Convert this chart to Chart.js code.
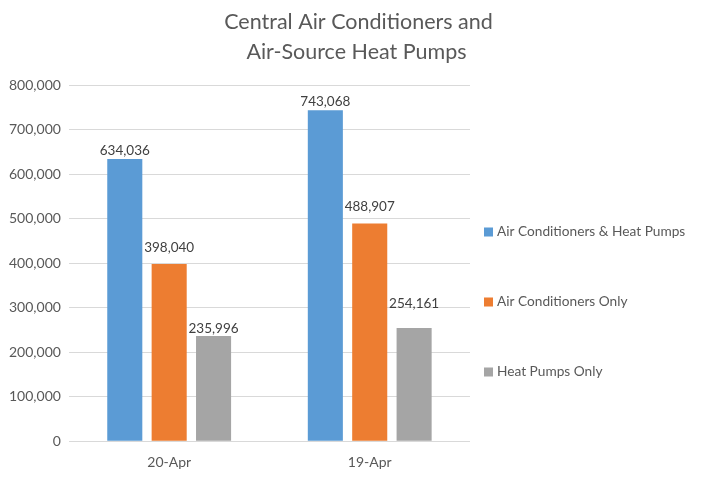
<!DOCTYPE html>
<html>
<head>
<meta charset="utf-8">
<script src="https://cdn.jsdelivr.net/npm/chart.js@4.4.1/dist/chart.umd.min.js"></script>
<style>
html,body{margin:0;padding:0;background:#fff;}
#wrap{width:717px;height:477px;position:relative;}
</style>
</head>
<body>
<div id="wrap"><canvas id="c" width="717" height="477"></canvas></div>
<script>
const categories = ['20-Apr', '19-Apr'];
const seriesNames = ['Air Conditioners & Heat Pumps', 'Air Conditioners Only', 'Heat Pumps Only'];
const acAndHp = [634036, 743068];
const acOnly = [398040, 488907];
const hpOnly = [235996, 254161];
const seriesColors = ['#5B9BD5', '#ED7D31', '#A5A5A5'];
const titleLines = ['Central Air Conditioners and', 'Air-Source Heat Pumps'];

const FONT = 'Lato, "Open Sans", sans-serif';
const fmt = v => v.toLocaleString('en-US');

const valueLabels = {
  id: 'valueLabels',
  afterDatasetsDraw(chart, args, opts) {
    const ctx = chart.ctx;
    const gaps = opts.gaps || [];
    ctx.save();
    ctx.font = '13.5px ' + FONT;
    ctx.fillStyle = '#404040';
    ctx.textAlign = 'center';
    ctx.textBaseline = 'middle';
    chart.data.datasets.forEach((ds, i) => {
      chart.getDatasetMeta(i).data.forEach((bar, j) => {
        const g = (gaps[i] && gaps[i][j]) || 8;
        ctx.fillText(fmt(ds.data[j]), bar.x, bar.y - g);
      });
    });
    ctx.restore();
  }
};

const titleAndLegend = {
  id: 'titleAndLegend',
  afterDraw(chart) {
    const ctx = chart.ctx;
    ctx.save();
    ctx.font = '21.5px ' + FONT;
    ctx.fillStyle = '#595959';
    ctx.textAlign = 'center';
    ctx.textBaseline = 'middle';
    ctx.fillText(titleLines[0], chart.width / 2, 22);
    ctx.fillText(titleLines[1], chart.width / 2 - 2, 52);
    const x0 = chart.chartArea.right + 14;
    const ys = [232, 302, 372];
    ctx.font = '13.7px ' + FONT;
    ctx.textAlign = 'left';
    chart.data.datasets.forEach((ds, i) => {
      ctx.fillStyle = ds.backgroundColor;
      ctx.fillRect(x0, ys[i] - 4.5, 9, 9);
      ctx.fillStyle = '#595959';
      ctx.fillText(ds.label, x0 + 13, ys[i]);
    });
    ctx.restore();
  }
};

new Chart(document.getElementById('c'), {
  type: 'bar',
  data: {
    labels: categories,
    datasets: [
      { label: seriesNames[0], data: acAndHp, backgroundColor: seriesColors[0] },
      { label: seriesNames[1], data: acOnly, backgroundColor: seriesColors[1] },
      { label: seriesNames[2], data: hpOnly, backgroundColor: seriesColors[2] }
    ]
  },
  options: {
    responsive: false,
    animation: false,
    devicePixelRatio: 1,
    datasets: { bar: { categoryPercentage: 0.664, barPercentage: 0.79 } },
    layout: { padding: { left: 1, right: 247, bottom: -7, top: 85 } },
    plugins: {
      legend: { display: false },
      tooltip: { enabled: false },
      title: { display: false },
      valueLabels: { gaps: [[8, 9], [16, 17], [7, 24]] }
    },
    scales: {
      x: {
        grid: { display: false, drawTicks: false },
        border: { display: false },
        ticks: { color: '#595959', font: { family: FONT, size: 14 }, padding: 13 }
      },
      y: {
        min: 0, max: 800000,
        ticks: { stepSize: 100000, color: '#595959', font: { family: FONT, size: 14 }, padding: 8,
          callback: v => fmt(v) },
        grid: { color: '#D9D9D9', lineWidth: 1, drawTicks: false },
        border: { display: false }
      }
    }
  },
  plugins: [valueLabels, titleAndLegend]
});
</script>
</body>
</html>
